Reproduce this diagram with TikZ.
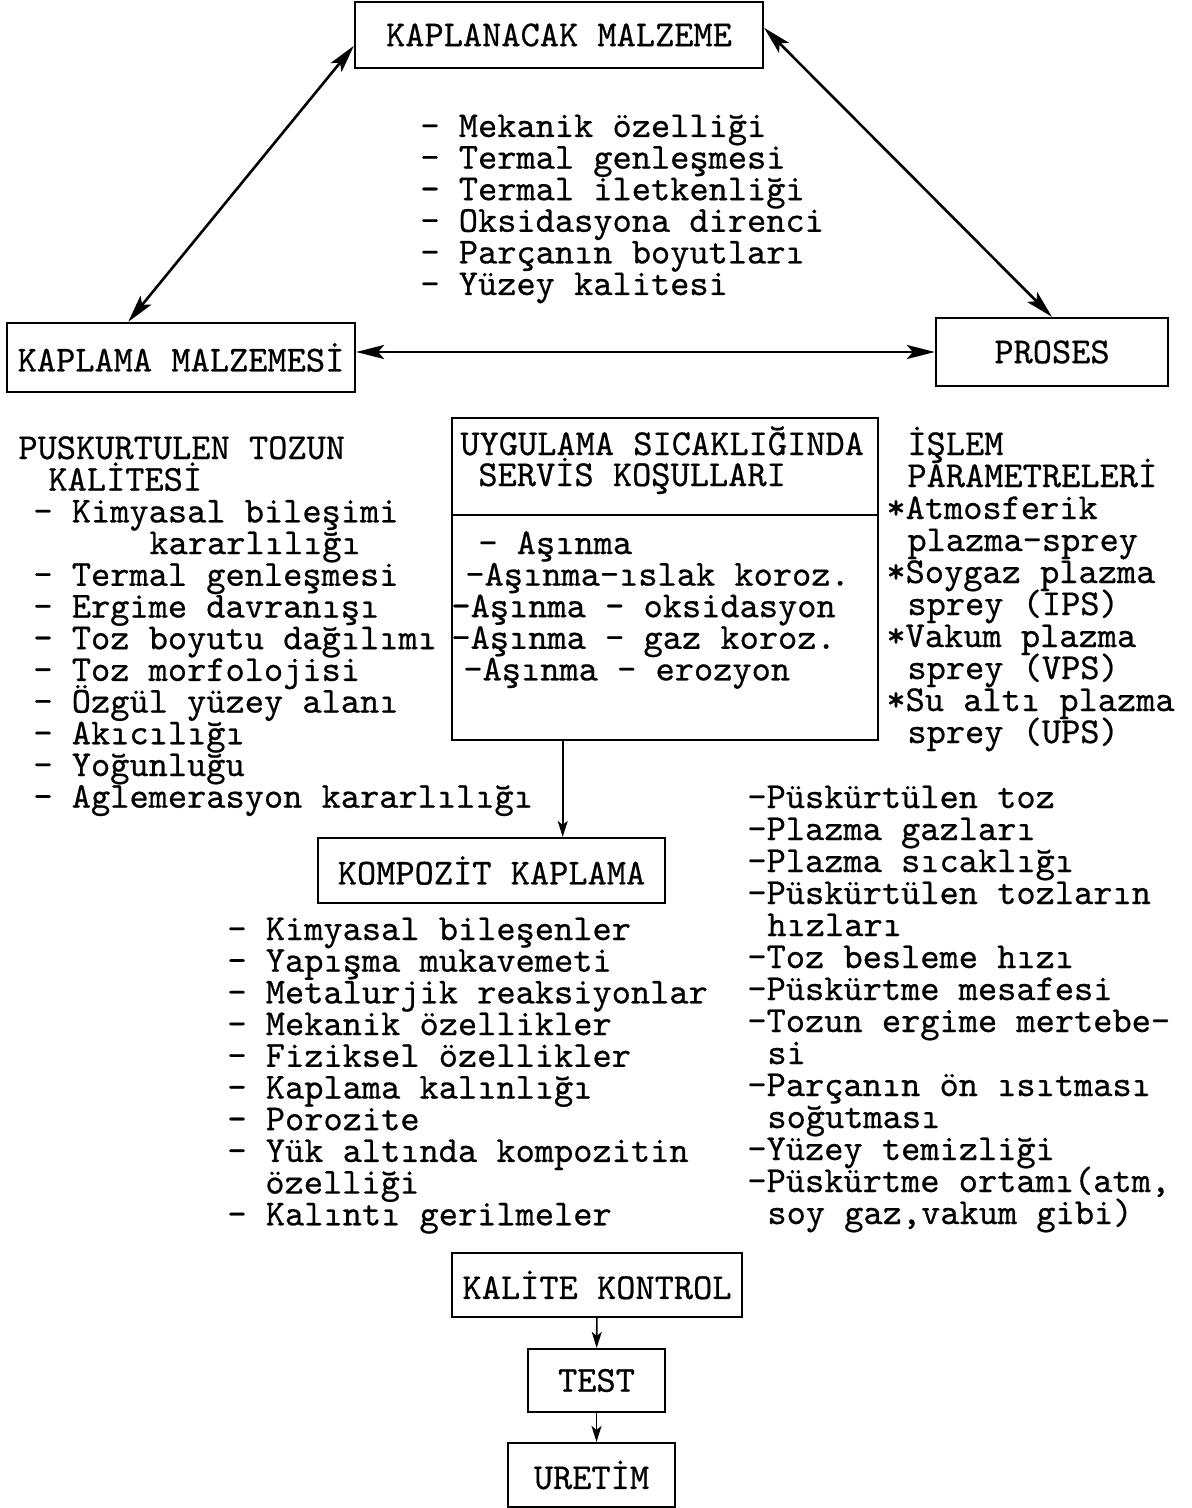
\documentclass[tikz,border=0pt]{standalone}
\usepackage{fontspec}
\newfontfamily\daktilo{lmmono10-regular}[Extension=.otf,FakeBold=0.6]
\usetikzlibrary{arrows.meta}

\begin{document}
\begin{tikzpicture}[x=0.5pt,y=-0.5pt,
    font=\daktilo\fontsize{18.3pt}{15.8pt}\selectfont]

    \tikzstyle{kutu}=[draw,line width=1.1pt,inner sep=0pt]
    \tikzstyle{satir}=[anchor=base west,inner sep=0pt,text height=11pt,text depth=2.5pt]
    \tikzstyle{cift}=[line width=1.3pt,
        {Stealth[length=14pt,width=7pt,inset=3pt]}-{Stealth[length=14pt,width=7pt,inset=3pt]}]
    \tikzstyle{tek}=[line width=0.8pt,-{Stealth[length=8pt,width=5pt,inset=2pt]}]

    \useasboundingbox (0,0) rectangle (1191,1508);

    % ============================
    % Top: triangle of boxes
    % ============================

    \node[kutu,minimum width=204pt,minimum height=33pt] (hedef) at (559,35) {KAPLANACAK MALZEME};
    \node[kutu,minimum width=174pt,minimum height=34.5pt] (kaplama) at (181,357.5) {KAPLAMA MALZEMESİ};
    \node[kutu,minimum width=116pt,minimum height=34pt] (proses) at (1052,352) {PROSES};

    \draw[cift] (hedef.183) -- (kaplama.146);
    \draw[cift] (hedef.2) -- (proses.north);
    \draw[cift] (proses.west) -- (proses.west -| kaplama.east);

    \foreach \metin [count=\n from 0] in {- Mekanik özelliği, - Termal genleşmesi,
        - Termal iletkenliği, - Oksidasyona direnci, - Parçanın boyutları,
        - Yüzey kalitesi}
        \node[satir] (malz\n) at (420,137+\n*31.6) {\metin};

    % ============================
    % Middle: service conditions
    % ============================

    \node[kutu,minimum width=213pt,minimum height=48.5pt] (uygbaslik) at (665,466.5) {};
    \node[kutu,minimum width=213pt,minimum height=112.5pt] (uyggovde) at (665,627.5) {};
    \node[satir] (baslik1) at (460,455) {UYGULAMA SICAKLIĞINDA};
    \node[satir] (baslik2) at (478,486) {SERVİS KOŞULLARI};

    \foreach \dx/\metin [count=\n from 0] in {478/- Aşınma, 465/-Aşınma-ıslak koroz.,
        451/-Aşınma - oksidasyon, 451/-Aşınma - gaz koroz., 463/-Aşınma - erozyon}
        \node[satir] (asinma\n) at (\dx,554+\n*31.6) {\metin};

    % left list
    \foreach \dx/\metin [count=\n from 0] in {18/PUSKURTULEN TOZUN, 48/KALİTESİ,
        33/- Kimyasal bileşimi, 149/kararlılığı, 33/- Termal genleşmesi,
        33/- Ergime davranışı, 33/- Toz boyutu dağılımı, 33/- Toz morfolojisi,
        33/- Özgül yüzey alanı, 33/- Akıcılığı, 33/- Yoğunluğu,
        33/- Aglemerasyon kararlılığı}
        \node[satir] (toz\n) at (\dx,459+\n*31.7) {\metin};

    % right list
    \foreach \dx/\metin [count=\n from 0] in {907/İŞLEM, 907/PARAMETRELERİ,
        886/*Atmosferik, 907/plazma-sprey, 886/*Soygaz plazma, 907/sprey (IPS),
        886/*Vakum plazma, 907/sprey (VPS), 886/*Su altı plazma, 907/sprey (UPS)}
        \node[satir] (islem\n) at (\dx,455+\n*32) {\metin};

    % ============================
    % Bottom: composite coating
    % ============================

    \node[kutu,minimum width=173.5pt,minimum height=32.5pt] (kompozit) at (491.5,870.5) {KOMPOZİT KAPLAMA};
    \draw[tek] (uyggovde.228.65) -- (uyggovde.228.65 |- kompozit.north);

    \foreach \dx/\metin [count=\n from 0] in {227/- Kimyasal bileşenler,
        227/- Yapışma mukavemeti, 227/- Metalurjik reaksiyonlar,
        227/- Mekanik özellikler, 227/- Fiziksel özellikler,
        227/- Kaplama kalınlığı, 227/- Porozite, 227/- Yük altında kompozitin,
        265/özelliği, 227/- Kalıntı gerilmeler}
        \node[satir] (komp\n) at (\dx,940+\n*31.7) {\metin};

    \foreach \dx/\metin [count=\n from 0] in {747/-Püskürtülen toz,
        747/-Plazma gazları, 747/-Plazma sıcaklığı, 747/-Püskürtülen tozların,
        767/hızları, 747/-Toz besleme hızı, 747/-Püskürtme mesafesi,
        747/-Tozun ergime mertebe-, 767/si, 747/-Parçanın ön ısıtması,
        767/soğutması, 747/-Yüzey temizliği, 747/{-Püskürtme ortamı(atm,},
        767/{soy gaz,vakum gibi)}}
        \node[satir] (param\n) at (\dx,808+\n*32) {\metin};

    \node[kutu,minimum width=145pt,minimum height=32pt] (kalite) at (597,1285) {KALİTE KONTROL};
    \node[kutu,minimum width=68.5pt,minimum height=31.5pt] (test) at (596.5,1380.5) {TEST};
    \node[kutu,minimum width=83.5pt,minimum height=32pt] (uretim) at (591.5,1475) {URETİM};

    \draw[tek] (kalite) -- (test);
    \draw[tek] (test.south) -- (test.south |- uretim.north);
\end{tikzpicture}
\end{document}
